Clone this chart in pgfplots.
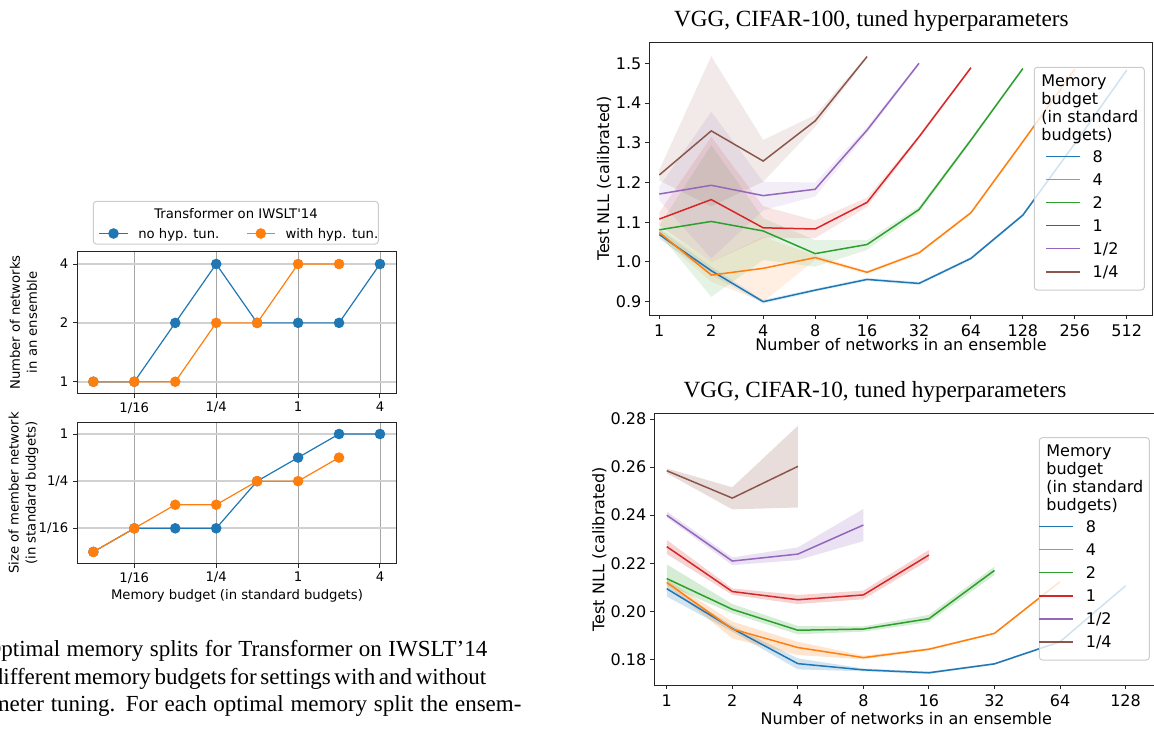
\documentclass[border=0pt]{standalone}
\usepackage{fontspec}
\setmainfont{DejaVu Sans}[Ligatures=TeXOff]
\newfontfamily\tnr{Liberation Serif}
\newfontfamily\tnrcap{Liberation Serif}[WordSpace={1,1,2}]
\usepackage{pgfplots}
\pgfplotsset{compat=1.18}

\definecolor{C0}{HTML}{1F77B4}
\definecolor{C1}{HTML}{FF7F0E}
\definecolor{C2}{HTML}{2CA02C}
\definecolor{C3}{HTML}{D62728}
\definecolor{C4}{HTML}{9467BD}
\definecolor{C5}{HTML}{8C564B}

\newcommand{\lf}{\fontsize{6.6}{8.5}\selectfont}
\newcommand{\rf}{\fontsize{8}{9}\selectfont}
\newcommand{\capfont}{\tnrcap\fontsize{11.5}{13.9}\selectfont}
\newcommand{\ttlfont}{\tnr\fontsize{11.6}{13}\selectfont}

\pgfplotsset{
  mpl/.style={
    scale only axis, anchor=south west, clip mode=individual,
    axis line style={black!85, line width=0.5pt},
    tick style={black!85, line width=0.5pt},
    tick align=outside, major tick length=2.1pt, tick pos=left,
    /pgf/number format/assume math mode=true,
    legend cell align=left,
  },
  leftplot/.style={
    mpl, width=159.7pt,
    xmin=-5.392, xmax=2.408,
    xtick={-4,-2,0,2}, xticklabels={1/16,1/4,1,4},
    xmajorgrids, ymajorgrids,
    x grid style={black!35, line width=0.4pt},
    y grid style={black!18, line width=0.9pt},
    tick label style={font=\lf},
    xticklabel style={inner sep=0pt, anchor=north, yshift=-2.2pt},
    yticklabel style={inner sep=0pt, anchor=east, xshift=-2.2pt},
    label style={font=\lf},
    every axis y label/.style={at={(axis description cs:-0.1684,0.5)}, rotate=90, anchor=center, align=center, font=\lf},
  },
  lline/.style={line width=0.6pt, mark=*, mark size=2.33pt, mark options={solid}},
  rightplot/.style={
    mpl,
    tick label style={font=\rf},
    xticklabel style={inner sep=0pt, anchor=north, yshift=-2.5pt},
    yticklabel style={inner sep=0pt, anchor=east, xshift=-1.7pt},
    label style={font=\rf},
    legend style={draw=none, fill=none, inner sep=0pt, font=\rf,
      row sep=5.65pt, column sep=6.15pt,
      nodes={inner sep=0pt, text height=5.9pt, text depth=0pt}},
    legend image code/.code={\draw[#1] (0pt,0pt) -- (16.7pt,0pt);},
  },
  rline/.style={line width=0.75pt},
}

\begin{document}
\begin{tikzpicture}
\path[use as bounding box] (0pt,0pt) rectangle (577pt,-364pt);

% ---------------- left: Transformer on IWSLT'14, number of networks
\begin{axis}[leftplot, at={(38.65pt,-196.65pt)}, height=70.8pt,
  ymin=-0.197, ymax=2.209,
  ytick={0,1,2}, yticklabels={1,2,4},
  ylabel={Number of networks\\in an ensemble},
  legend columns=2,
  legend style={at={(axis description cs:0.0658,1.166)}, anchor=north west,
    draw=none, fill=none, inner sep=0pt, font=\lf,
    column sep=5pt, /tikz/every even column/.append style={column sep=13.3pt},
    nodes={inner sep=0pt, text height=4.9pt, text depth=0pt}},
  legend image code/.code={\draw[#1, mark repeat=2, mark phase=2] plot coordinates {(0pt,0pt) (7.1pt,0pt) (14.2pt,0pt)};},
]
\addplot[C0, lline] coordinates {(-5,0) (-4,0) (-3,1) (-2,2) (-1,1) (0,1) (1,1) (2,2)};
\addlegendentry{no hyp. tun.}
\addplot[C1, lline] coordinates {(-5,0) (-4,0) (-3,0) (-2,1) (-1,1) (0,2) (1,2)};
\addlegendentry{with hyp. tun.}
\draw[black!20, fill=white, rounded corners=1.5pt, line width=0.5pt]
  (axis description cs:0.0501,1.3552) rectangle (axis description cs:0.9424,1.0544);
\node[font=\lf, anchor=base, inner sep=0pt] at (axis description cs:0.4969,1.238) {Transformer on IWSLT'14};
\end{axis}

% ---------------- left: size of member network
\begin{axis}[leftplot, at={(38.65pt,-281.65pt)}, height=70.3pt,
  ymin=-5.484, ymax=0.479,
  ytick={-4,-2,0}, yticklabels={1/16,1/4,1},
  ylabel={Size of member network\\(in standard budgets)},
  xlabel={Memory budget (in standard budgets)},
  every axis x label/.style={at={(axis description cs:0.5,-0.232)}, anchor=center, font=\lf},
]
\addplot[C0, lline] coordinates {(-5,-5) (-4,-4) (-3,-4) (-2,-4) (-1,-2) (0,-1) (1,0) (2,0)};
\addplot[C1, lline] coordinates {(-5,-5) (-4,-4) (-3,-3) (-2,-3) (-1,-2) (0,-2) (1,-1)};
\end{axis}

% ---------------- right top: VGG, CIFAR-100
\begin{axis}[rightplot, at={(324.65pt,-157.5pt)}, width=251.7pt, height=136.15pt,
  xmin=-0.193, xmax=9.5, ymin=0.8665, ymax=1.5519,
  xtick={0,...,9}, xticklabels={1,2,4,8,16,32,64,128,256,512},
  ytick={0.9,1.0,1.1,1.2,1.3,1.4,1.5},
  yticklabel style={/pgf/number format/.cd, fixed, fixed zerofill, precision=1},
  xlabel={Number of networks in an ensemble},
  ylabel={Test NLL (calibrated)},
  every axis x label/.style={at={(axis description cs:0.5,-0.110)}, anchor=center, font=\rf},
  every axis y label/.style={at={(axis description cs:-0.090,0.5)}, rotate=90, anchor=center, font=\rf},
  legend style={at={(axis description cs:0.7863,0.6059)}, anchor=north west},
]
% confidence bands
\addplot[draw=none, fill=C0, fill opacity=0.12, forget plot] coordinates {(0,1.082) (1,0.988) (2,0.905) (3,0.933) (4,0.960) (5,0.950) (6,1.013) (7,1.122) (8,1.302) (9,1.487) (9,1.479) (8,1.294) (7,1.114) (6,1.005) (5,0.942) (4,0.952) (3,0.925) (2,0.895) (1,0.968) (0,1.058)};
\addplot[draw=none, fill=C1, fill opacity=0.12, forget plot] coordinates {(0,1.085) (1,1.000) (2,1.063) (3,1.017) (4,0.978) (5,1.027) (6,1.128) (7,1.307) (8,1.489) (8,1.481) (7,1.299) (6,1.120) (5,1.019) (4,0.970) (3,1.005) (2,0.900) (1,0.950) (0,1.063)};
\addplot[draw=none, fill=C2, fill opacity=0.12, forget plot] coordinates {(0,1.092) (1,1.294) (2,1.110) (3,1.055) (4,1.055) (5,1.140) (6,1.312) (7,1.491) (7,1.483) (6,1.302) (5,1.124) (4,1.030) (3,0.988) (2,1.005) (1,0.912) (0,1.070)};
\addplot[draw=none, fill=C3, fill opacity=0.12, forget plot] coordinates {(0,1.125) (1,1.315) (2,1.140) (3,1.105) (4,1.162) (5,1.320) (6,1.493) (6,1.485) (5,1.310) (4,1.138) (3,1.060) (2,1.060) (1,1.000) (0,1.092)};
\addplot[draw=none, fill=C4, fill opacity=0.12, forget plot] coordinates {(0,1.190) (1,1.378) (2,1.202) (3,1.200) (4,1.340) (5,1.504) (5,1.496) (4,1.324) (3,1.165) (2,1.130) (1,1.009) (0,1.155)};
\addplot[draw=none, fill=C5, fill opacity=0.12, forget plot] coordinates {(0,1.232) (1,1.518) (2,1.307) (3,1.370) (4,1.520) (4,1.514) (3,1.340) (2,1.202) (1,1.140) (0,1.205)};
% means
\addplot[C0, rline] coordinates {(0,1.069) (1,0.978) (2,0.900) (3,0.929) (4,0.956) (5,0.946) (6,1.009) (7,1.118) (8,1.298) (9,1.483)};
\addlegendentry{8}
\addplot[C1, rline] coordinates {(0,1.074) (1,0.967) (2,0.984) (3,1.011) (4,0.974) (5,1.023) (6,1.124) (7,1.303) (8,1.485)};
\addlegendentry{4}
\addplot[C2, rline] coordinates {(0,1.081) (1,1.102) (2,1.078) (3,1.021) (4,1.044) (5,1.132) (6,1.307) (7,1.487)};
\addlegendentry{2}
\addplot[C3, rline] coordinates {(0,1.108) (1,1.157) (2,1.086) (3,1.083) (4,1.150) (5,1.315) (6,1.489)};
\addlegendentry{1}
\addplot[C4, rline] coordinates {(0,1.171) (1,1.193) (2,1.167) (3,1.183) (4,1.332) (5,1.500)};
\addlegendentry{1/2}
\addplot[C5, rline] coordinates {(0,1.219) (1,1.330) (2,1.254) (3,1.355) (4,1.517)};
\addlegendentry{1/4}
\draw[black!20, fill=white, fill opacity=0.8, rounded corners=1.5pt, line width=0.5pt]
  (axis description cs:0.7648,0.9097) rectangle (axis description cs:0.9833,0.0918);
\node[font=\rf, anchor=base west, inner sep=0pt] at (axis description cs:0.7781,0.8384) {Memory};
\node[font=\rf, anchor=base west, inner sep=0pt] at (axis description cs:0.7781,0.7727) {budget};
\node[font=\rf, anchor=base west, inner sep=0pt] at (axis description cs:0.7781,0.7069) {(in standard};
\node[font=\rf, anchor=base west, inner sep=0pt] at (axis description cs:0.7781,0.6412) {budgets)};
\end{axis}

% ---------------- right bottom: VGG, CIFAR-10
\begin{axis}[rightplot, at={(327.15pt,-342.5pt)}, width=252pt, height=135.85pt,
  xmin=-0.19, xmax=7.5, ymin=0.1693, ymax=0.2824,
  xtick={0,...,7}, xticklabels={1,2,4,8,16,32,64,128},
  ytick={0.18,0.20,0.22,0.24,0.26,0.28},
  yticklabel style={/pgf/number format/.cd, fixed, fixed zerofill, precision=2},
  xlabel={Number of networks in an ensemble},
  ylabel={Test NLL (calibrated)},
  every axis x label/.style={at={(axis description cs:0.5,-0.1226)}, anchor=center, font=\rf},
  every axis y label/.style={at={(axis description cs:-0.109,0.5)}, rotate=90, anchor=center, font=\rf},
  legend style={at={(axis description cs:0.7619,0.6065)}, anchor=north west},
]
\addplot[draw=none, fill=C0, fill opacity=0.2, forget plot] coordinates {(0,0.2112) (1,0.1940) (2,0.1804) (3,0.1762) (4,0.1749) (5,0.1785) (6,0.1877) (7,0.2110) (7,0.2102) (6,0.1869) (5,0.1777) (4,0.1739) (3,0.1750) (2,0.1758) (1,0.1915) (0,0.2061)};
\addplot[draw=none, fill=C1, fill opacity=0.2, forget plot] coordinates {(0,0.2132) (1,0.1957) (2,0.1873) (3,0.1815) (4,0.1847) (5,0.1912) (6,0.2127) (6,0.2119) (5,0.1904) (4,0.1837) (3,0.1800) (2,0.1818) (1,0.1887) (0,0.2108)};
\addplot[draw=none, fill=C2, fill opacity=0.2, forget plot] coordinates {(0,0.2195) (1,0.2030) (2,0.1939) (3,0.1937) (4,0.1985) (5,0.2186) (5,0.2151) (4,0.1955) (3,0.1915) (2,0.1904) (1,0.1991) (0,0.2109)};
\addplot[draw=none, fill=C3, fill opacity=0.2, forget plot] coordinates {(0,0.2297) (1,0.2095) (2,0.2068) (3,0.2086) (4,0.2255) (4,0.2213) (3,0.2050) (2,0.2030) (1,0.2068) (0,0.2238)};
\addplot[draw=none, fill=C4, fill opacity=0.2, forget plot] coordinates {(0,0.2415) (1,0.2224) (2,0.2266) (3,0.2426) (3,0.2292) (2,0.2213) (1,0.2192) (0,0.2390)};
\addplot[draw=none, fill=C5, fill opacity=0.2, forget plot] coordinates {(0,0.2595) (1,0.2516) (2,0.2772) (2,0.2432) (1,0.2424) (0,0.2575)};
\addplot[C0, rline] coordinates {(0,0.2094) (1,0.1928) (2,0.1782) (3,0.1756) (4,0.1744) (5,0.1781) (6,0.1873) (7,0.2106)};
\addlegendentry{8}
\addplot[C1, rline] coordinates {(0,0.2120) (1,0.1926) (2,0.1849) (3,0.1807) (4,0.1842) (5,0.1908) (6,0.2123)};
\addlegendentry{4}
\addplot[C2, rline] coordinates {(0,0.2136) (1,0.2008) (2,0.1921) (3,0.1926) (4,0.1969) (5,0.2170)};
\addlegendentry{2}
\addplot[C3, rline] coordinates {(0,0.2269) (1,0.2082) (2,0.2048) (3,0.2068) (4,0.2234)};
\addlegendentry{1}
\addplot[C4, rline] coordinates {(0,0.2400) (1,0.2209) (2,0.2238) (3,0.2359)};
\addlegendentry{1/2}
\addplot[C5, rline] coordinates {(0,0.2585) (1,0.2471) (2,0.2603)};
\addlegendentry{1/4}
\draw[black!20, fill=white, fill opacity=0.8, rounded corners=1.5pt, line width=0.5pt]
  (axis description cs:0.7639,0.9102) rectangle (axis description cs:0.9821,0.0920);
\node[font=\rf, anchor=base west, inner sep=0pt] at (axis description cs:0.7772,0.8403) {Memory};
\node[font=\rf, anchor=base west, inner sep=0pt] at (axis description cs:0.7772,0.7744) {budget};
\node[font=\rf, anchor=base west, inner sep=0pt] at (axis description cs:0.7772,0.7085) {(in standard};
\node[font=\rf, anchor=base west, inner sep=0pt] at (axis description cs:0.7772,0.6426) {budgets)};
\end{axis}

% ---------------- titles and caption text
\node[font=\ttlfont, anchor=base, inner sep=0pt] at (435.65pt,-13.4pt) {VGG, CIFAR-100, tuned hyperparameters};
\node[font=\ttlfont, anchor=base, inner sep=0pt] at (437.5pt,-198.7pt) {VGG, CIFAR-10, tuned hyperparameters};
\node[font=\capfont, anchor=base west, inner sep=0pt] at (-7.8pt,-328pt) {\makebox[251.2pt][s]{Optimal memory splits for Transformer on IWSLT’14}};
\node[font=\capfont, anchor=base west, inner sep=0pt] at (-4.25pt,-342.15pt) {\makebox[247.1pt][s]{different memory budgets for settings with and without}};
\node[font=\capfont, anchor=base west, inner sep=0pt] at (-50.3pt,-355.85pt) {\makebox[310.8pt][s]{hyperparameter tuning. For each optimal memory split the ensem-}};
\end{tikzpicture}
\end{document}
